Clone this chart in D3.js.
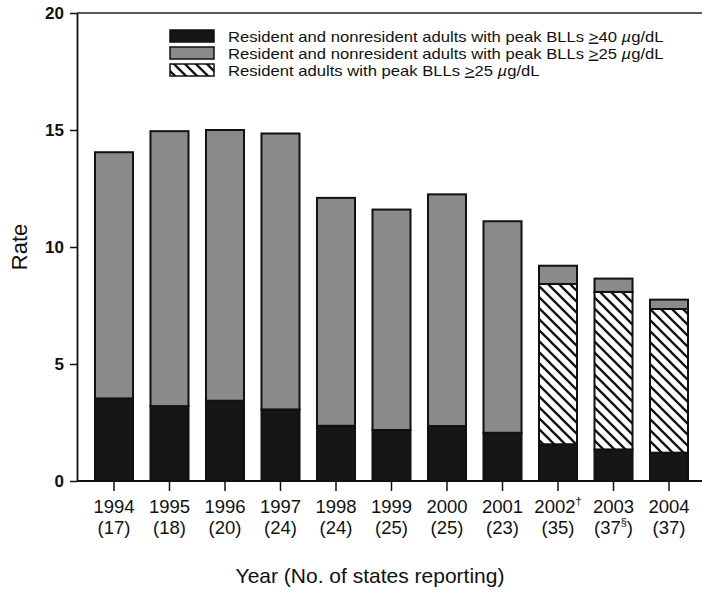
<!DOCTYPE html>
<html>
<head>
  <script src="https://d3js.org/d3.v7.min.js"></script>
  <style>
    body { margin: 0; background: #fff; }
    text { font-family: "Liberation Sans", Arial, sans-serif; fill: #111; }
  </style>
</head>
<body>
  <svg id="chart" width="702" height="592"></svg>
  <script>
    // years and number of states reporting
    const years = ["1994","1995","1996","1997","1998","1999","2000","2001","2002","2003","2004"];
    const states = ["17","18","20","24","24","25","25","23","35","37","37"];
    const yearMarks = ["","","","","","","","","\u2020","",""];
    const stateMarks = ["","","","","","","","","","\u00a7",""];
    // rates
    const ge40 = [3.53, 3.2, 3.43, 3.06, 2.36, 2.18, 2.35, 2.06, 1.57, 1.35, 1.21];
    const ge25 = [14.05, 14.95, 15.0, 14.85, 12.1, 11.6, 12.25, 11.1, 9.2, 8.65, 7.75];
    const resident25 = [null, null, null, null, null, null, null, null, 8.42, 8.08, 7.35];
    const yTicks = [0, 5, 10, 15, 20];

    const svg = d3.select("#chart");
    const plotLeft = 77, plotTop = 13, plotBottom = 481;

    const defs = svg.append("defs");
    const hatch = defs.append("pattern")
      .attr("id", "hatch")
      .attr("patternUnits", "userSpaceOnUse")
      .attr("width", 11).attr("height", 11);
    hatch.append("rect").attr("width", 11).attr("height", 11).attr("fill", "#fff");
    hatch.append("path")
      .attr("d", "M-2,-2 L13,13 M-13,-2 L2,13 M9,-2 L24,13")
      .attr("stroke", "#111").attr("stroke-width", 2.3);

    const x = d3.scaleBand()
      .domain(years)
      .range([plotLeft, 706])
      .paddingInner(0.315)
      .paddingOuter(0.324);

    const y = d3.scaleLinear()
      .domain([0, 20])
      .range([plotBottom, plotTop]);

    // build segments for each bar
    const segs = [];
    years.forEach((yr, i) => {
      segs.push({ year: yr, y0: 0, y1: ge40[i], fill: "#161616" });
      let base = ge40[i];
      if (resident25[i] != null) {
        segs.push({ year: yr, y0: base, y1: resident25[i], fill: "url(#hatch)" });
        base = resident25[i];
      }
      segs.push({ year: yr, y0: base, y1: ge25[i], fill: "#8a8a8a" });
    });

    svg.append("g").selectAll("rect")
      .data(segs)
      .enter()
      .append("rect")
      .attr("x", d => x(d.year))
      .attr("width", x.bandwidth())
      .attr("y", d => y(d.y1))
      .attr("height", d => y(d.y0) - y(d.y1))
      .attr("fill", d => d.fill)
      .attr("stroke", "#111")
      .attr("stroke-width", 2);

    // top frame line
    svg.append("line")
      .attr("x1", plotLeft).attr("x2", 702)
      .attr("y1", plotTop).attr("y2", plotTop)
      .attr("stroke", "#222").attr("stroke-width", 1.5);

    // y axis
    const yAxis = svg.append("g")
      .attr("transform", `translate(${plotLeft},0)`)
      .call(d3.axisLeft(y).tickValues(yTicks).tickSize(7).tickSizeOuter(0).tickPadding(6));
    yAxis.select(".domain").attr("stroke", "#111").attr("stroke-width", 1.8);
    yAxis.selectAll(".tick line").attr("stroke", "#111").attr("stroke-width", 1.5);
    yAxis.selectAll(".tick text")
      .attr("font-size", 17).attr("font-family", "Liberation Sans, Arial, sans-serif")
      .attr("fill", "#111").attr("font-weight", "bold");

    // x axis
    const xAxis = svg.append("g")
      .attr("transform", `translate(0,${plotBottom})`)
      .call(d3.axisBottom(x).tickSize(10).tickSizeOuter(0).tickFormat(""));
    xAxis.select(".domain").attr("stroke", "#111").attr("stroke-width", 1.8)
      .attr("d", `M${plotLeft},0H702`);
    xAxis.selectAll(".tick line").attr("stroke", "#111").attr("stroke-width", 1.5);

    const lab = svg.append("g");
    years.forEach((yr, i) => {
      const cx = x(yr) + x.bandwidth() / 2;
      const t1 = lab.append("text")
        .attr("x", cx).attr("y", 513)
        .attr("text-anchor", "middle").attr("font-size", 18.5);
      t1.append("tspan").text(yr);
      if (yearMarks[i]) t1.append("tspan").attr("dy", -8).attr("font-size", 11).text(yearMarks[i]);
      const t2 = lab.append("text")
        .attr("x", cx).attr("y", 534)
        .attr("text-anchor", "middle").attr("font-size", 18.5);
      t2.append("tspan").text("(" + states[i]);
      if (stateMarks[i]) {
        t2.append("tspan").attr("dy", -8).attr("font-size", 11).text(stateMarks[i]);
        t2.append("tspan").attr("dy", 8).text(")");
      } else {
        t2.append("tspan").text(")");
      }
    });

    svg.append("text")
      .attr("x", 370).attr("y", 583)
      .attr("text-anchor", "middle").attr("font-size", 21)
      .text("Year (No. of states reporting)");

    svg.append("text")
      .attr("transform", "translate(27,247) rotate(-90)")
      .attr("text-anchor", "middle").attr("font-size", 22)
      .text("Rate");

    // legend
    const legendItems = [
      { fill: "#161616", pre: "Resident and nonresident adults with peak BLLs ", num: "40" },
      { fill: "#8a8a8a", pre: "Resident and nonresident adults with peak BLLs ", num: "25" },
      { fill: "url(#hatch)", pre: "Resident adults with peak BLLs ", num: "25" }
    ];
    const lg = svg.append("g");
    legendItems.forEach((d, i) => {
      const yy = 30 + i * 17;
      lg.append("rect")
        .attr("x", 170).attr("y", yy).attr("width", 44).attr("height", 12)
        .attr("fill", d.fill).attr("stroke", "#111").attr("stroke-width", 1.5);
      const t = lg.append("text")
        .attr("x", 228).attr("y", yy + 11.5)
        .attr("font-size", 14.6);
      t.append("tspan").text(d.pre);
      t.append("tspan").attr("text-decoration", "underline").text(">");
      t.append("tspan").text(d.num + " ");
      t.append("tspan").attr("font-style", "italic").text("\u00b5");
      t.append("tspan").text("g/dL");
      // the scanned legend type is wider than it is tall
      const w = t.node().getComputedTextLength();
      t.attr("textLength", w * 1.14).attr("lengthAdjust", "spacingAndGlyphs");
    });
  </script>
</body>
</html>
